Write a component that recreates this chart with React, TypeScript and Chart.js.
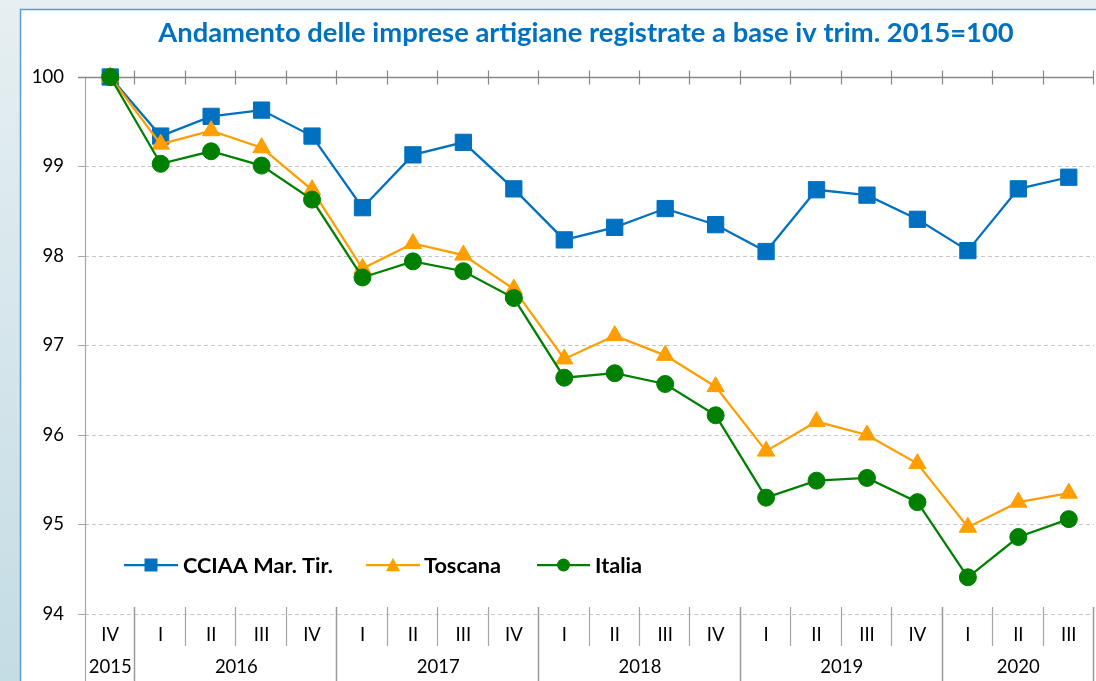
import React, { useEffect, useRef } from 'react';
import { Chart, registerables } from 'chart.js';
Chart.register(...registerables);

const TITLE = 'Andamento delle imprese artigiane registrate a base iv trim. 2015=100';

const quarterLabels = ['IV', 'I', 'II', 'III', 'IV', 'I', 'II', 'III', 'IV', 'I', 'II', 'III', 'IV', 'I', 'II', 'III', 'IV', 'I', 'II', 'III'];
const yearLabels = ['2015', '2016', '2017', '2018', '2019', '2020'];
const yearSpans = [1, 4, 4, 4, 4, 3];

const seriesNames = ['CCIAA Mar. Tir.', 'Toscana', 'Italia'];
const cciaa = [100, 99.34, 99.56, 99.63, 99.34, 98.54, 99.13, 99.27, 98.75, 98.18, 98.32, 98.53, 98.35, 98.05, 98.74, 98.68, 98.41, 98.06, 98.75, 98.88];
const toscana = [100, 99.25, 99.40, 99.21, 98.74, 97.86, 98.14, 98.01, 97.63, 96.85, 97.11, 96.89, 96.54, 95.82, 96.15, 96.00, 95.68, 94.97, 95.25, 95.35];
const italia = [100, 99.03, 99.17, 99.01, 98.63, 97.76, 97.94, 97.83, 97.53, 96.64, 96.69, 96.57, 96.22, 95.30, 95.49, 95.52, 95.25, 94.41, 94.86, 95.06];

const yMin = 94;
const yMax = 100;

const COLORS = ['#0070C0', '#FF9E00', '#008000'];
const FONT = 'Lato, "Open Sans", sans-serif';

function buildCategoryNames(): string[] {
  const out: string[] = [];
  let idx = 0;
  yearSpans.forEach((span, yi) => {
    for (let k = 0; k < span; k++) {
      out.push(quarterLabels[idx] + ' ' + yearLabels[yi]);
      idx++;
    }
  });
  return out;
}

function fitFont(ctx: CanvasRenderingContext2D, text: string, weight: string, targetW: number): number {
  ctx.font = `${weight} 20px ${FONT}`;
  const w = ctx.measureText(text).width;
  return (20 * targetW) / w;
}

function drawMarker(ctx: CanvasRenderingContext2D, kind: string, x: number, y: number, s: number, color: string) {
  ctx.save();
  ctx.fillStyle = color;
  ctx.beginPath();
  if (kind === 'rect') {
    ctx.rect(x - s / 2, y - s / 2, s, s);
  } else if (kind === 'triangle') {
    const h = s * 0.9;
    ctx.moveTo(x, y - h / 2 - 1);
    ctx.lineTo(x + s / 2, y + h / 2);
    ctx.lineTo(x - s / 2, y + h / 2);
    ctx.closePath();
  } else {
    ctx.arc(x, y, s / 2, 0, Math.PI * 2);
  }
  ctx.fill();
  ctx.restore();
}

const framePlugin = {
  id: 'framePlugin',
  beforeDraw(chart: any) {
    const ctx: CanvasRenderingContext2D = chart.ctx;
    const W = chart.width;
    const H = chart.height;
    ctx.save();
    const g = ctx.createLinearGradient(0, 0, 0, H);
    g.addColorStop(0, '#e6eff2');
    g.addColorStop(1, '#c4dce4');
    ctx.fillStyle = g;
    ctx.fillRect(0, 0, W, H);
    ctx.fillStyle = '#ffffff';
    ctx.fillRect(20, 9, W - 20, H - 9);
    ctx.strokeStyle = '#5b9bd5';
    ctx.lineWidth = 1.5;
    ctx.beginPath();
    ctx.moveTo(20.5, H);
    ctx.lineTo(20.5, 9.5);
    ctx.lineTo(W, 9.5);
    ctx.stroke();
    ctx.restore();
  },
  beforeDatasetsDraw(chart: any) {
    const ctx: CanvasRenderingContext2D = chart.ctx;
    const ca = chart.chartArea;
    const xs = chart.scales.x;
    const ys = chart.scales.y;
    const H = chart.height;
    const n = quarterLabels.length;
    const px = (i: number) => xs.getPixelForValue(i);
    const boundary = (i: number) => (i <= 0 ? ca.left : i >= n ? ca.right : (px(i - 1) + px(i)) / 2);
    const topY = Math.round(ys.getPixelForValue(yMax)) + 0.5;

    ctx.save();
    // y axis line
    ctx.strokeStyle = '#a6a6a6';
    ctx.lineWidth = 1.2;
    ctx.beginPath();
    ctx.moveTo(Math.round(ca.left) + 0.5, topY);
    ctx.lineTo(Math.round(ca.left) + 0.5, H);
    ctx.stroke();

    // top axis line at 100 with cross ticks
    ctx.strokeStyle = '#868686';
    ctx.lineWidth = 1.5;
    ctx.beginPath();
    ctx.moveTo(ca.left - 7, topY);
    ctx.lineTo(ca.right, topY);
    ctx.stroke();
    ctx.lineWidth = 1.2;
    ctx.beginPath();
    for (let i = 1; i <= n; i++) {
      const bx = Math.round(boundary(i)) - 0.5;
      ctx.moveTo(bx, topY - 7);
      ctx.lineTo(bx, topY + 7);
    }
    ctx.stroke();

    // category separators
    const bottom = ca.bottom;
    const yearBounds = new Set<number>();
    let acc = 0;
    yearSpans.forEach((s) => {
      acc += s;
      yearBounds.add(acc);
    });
    for (let i = 1; i <= n; i++) {
      const bx = Math.round(boundary(i)) - 0.5;
      const isYear = yearBounds.has(i);
      ctx.strokeStyle = isYear ? '#9a9a9a' : '#a6a6a6';
      ctx.lineWidth = isYear ? 1.5 : 1.2;
      ctx.beginPath();
      ctx.moveTo(bx, bottom - 7);
      ctx.lineTo(bx, isYear ? H : bottom + 32);
      ctx.stroke();
    }

    // quarter labels
    ctx.fillStyle = '#000000';
    ctx.font = `18.5px ${FONT}`;
    ctx.textAlign = 'center';
    ctx.textBaseline = 'middle';
    for (let i = 0; i < n; i++) {
      ctx.fillText(quarterLabels[i], px(i), bottom + 21);
    }
    // year labels
    let start = 0;
    yearSpans.forEach((s, yi) => {
      const cx = (boundary(start) + boundary(start + s)) / 2;
      ctx.fillText(yearLabels[yi], cx, bottom + 53);
      start += s;
    });

    // title
    const tSize = fitFont(ctx, TITLE, 'bold', 856);
    ctx.font = `bold ${tSize}px ${FONT}`;
    ctx.fillStyle = '#0070C0';
    ctx.textAlign = 'center';
    ctx.textBaseline = 'alphabetic';
    ctx.fillText(TITLE, 586, 42);

    // legend
    const legY = 565;
    const items = [
      { x1: 124, x2: 178, tx: 183, tw: 150, kind: 'rect', ms: 13 },
      { x1: 366, x2: 420, tx: 424, tw: 80, kind: 'triangle', ms: 14 },
      { x1: 537, x2: 590, tx: 595, tw: 49, kind: 'circle', ms: 13 },
    ];
    const lSize = fitFont(ctx, seriesNames[0], 'bold', items[0].tw);
    items.forEach((it, k) => {
      ctx.strokeStyle = COLORS[k];
      ctx.lineWidth = 2.25;
      ctx.beginPath();
      ctx.moveTo(it.x1, legY);
      ctx.lineTo(it.x2, legY);
      ctx.stroke();
      drawMarker(ctx, it.kind, (it.x1 + it.x2) / 2, legY, it.ms, COLORS[k]);
      ctx.font = `bold ${lSize}px ${FONT}`;
      ctx.fillStyle = '#000000';
      ctx.textAlign = 'left';
      ctx.textBaseline = 'middle';
      ctx.fillText(seriesNames[k], it.tx, legY + 1);
    });
    ctx.restore();
  },
};

export default function App() {
  const ref = useRef<HTMLCanvasElement | null>(null);
  useEffect(() => {
    document.body.style.margin = '0';
    const canvas = ref.current;
    if (!canvas) return;
    const labels = buildCategoryNames();
    const common = { borderWidth: 2.25, pointBorderWidth: 1, tension: 0, clip: false };
    const chart = new Chart(canvas, {
      type: 'line',
      data: {
        labels,
        datasets: [
          {
            ...common,
            label: seriesNames[0],
            data: cciaa,
            borderColor: COLORS[0],
            backgroundColor: COLORS[0],
            pointStyle: 'rect',
            pointRadius: 11.5,
            order: 3,
          },
          {
            ...common,
            label: seriesNames[1],
            data: toscana,
            borderColor: COLORS[1],
            backgroundColor: COLORS[1],
            pointStyle: 'triangle',
            pointRadius: 10,
            order: 2,
          },
          {
            ...common,
            label: seriesNames[2],
            data: italia,
            borderColor: COLORS[2],
            backgroundColor: COLORS[2],
            pointStyle: 'circle',
            pointRadius: 8.5,
            order: 1,
          },
        ],
      },
      options: {
        responsive: false,
        animation: false,
        layout: { autoPadding: false, padding: { top: 77, left: 0, right: 2, bottom: 0 } },
        plugins: {
          legend: { display: false },
          title: { display: false },
          tooltip: { enabled: false },
        },
        scales: {
          x: {
            type: 'category',
            offset: true,
            ticks: { display: false },
            grid: { display: false, drawTicks: false },
            border: { display: false },
            afterFit: (s: any) => {
              s.height = 67;
            },
          },
          y: {
            min: yMin,
            max: yMax,
            ticks: {
              stepSize: 1,
              color: '#000000',
              font: { family: FONT, size: 18.5 },
              padding: 14,
            },
            grid: {
              color: (c: any) => (c.tick && c.tick.value === yMax ? 'rgba(0,0,0,0)' : '#c6c6c6'),
              tickColor: '#a6a6a6',
              tickLength: 7,
              lineWidth: 1,
            },
            border: { display: false, dash: [4, 3] },
            afterFit: (s: any) => {
              s.width = 85;
            },
          },
        },
      },
      plugins: [framePlugin],
    } as any);
    return () => chart.destroy();
  }, []);
  return <canvas ref={ref} width={1096} height={681} style={{ display: 'block' }} />;
}
